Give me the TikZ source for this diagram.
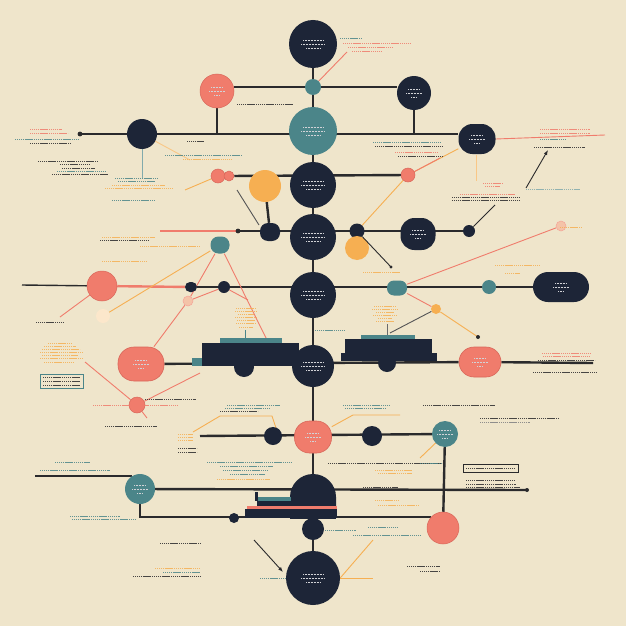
\documentclass[tikz,border=0pt]{standalone}
\usetikzlibrary{arrows.meta}
\definecolor{cream}{HTML}{EFE5CB}
\definecolor{navy}{HTML}{1D2537}
\definecolor{tealc}{HTML}{4B8589}
\definecolor{coral}{HTML}{F07C6C}
\definecolor{coraldk}{HTML}{D9675A}
\definecolor{orangec}{HTML}{F6AF52}
\definecolor{peach}{HTML}{F4C3A8}
\definecolor{ink}{HTML}{2A2A2C}
\pgfdeclarelayer{paper}
\pgfdeclarelayer{wires}
\pgfsetlayers{paper,wires,main}
\tikzset{
  bnavy/.style={circle, fill=navy, inner sep=0pt, minimum size=#1},
  bteal/.style={circle, fill=tealc, inner sep=0pt, minimum size=#1},
  bcoral/.style={circle, fill=coral, draw=coraldk, line width=0.5pt, inner sep=0pt, minimum size=#1},
  borange/.style={circle, fill=orangec, inner sep=0pt, minimum size=#1},
  bpeach/.style={circle, fill=peach, draw=coral!70, line width=0.5pt, inner sep=0pt, minimum size=#1},
  pill/.style={rectangle, fill=navy, inner sep=0pt, rounded corners=#1},
  oval/.style={rectangle, fill=coral, draw=coraldk, line width=0.6pt, inner sep=0pt, rounded corners=#1},
  link/.style={draw=ink, line width=2.4pt},
  thin/.style={line width=0.9pt},
  scribble/.style={line width=1pt, opacity=0.85, dash pattern=on 1.3pt off 0.6pt},
  innertxt/.style={draw=white!80!navy, line width=0.5pt, dash pattern=on 1pt off 0.5pt},
}
\newcommand{\scrib}[4]{\draw[scribble, #1] (#2,#4) -- (#3,#4);}
\newcommand{\inside}[2]{%
  \draw[innertxt] ([xshift=-#2pt, yshift=4pt]#1.center) -- ([xshift=#2pt, yshift=4pt]#1.center);
  \draw[innertxt] ([xshift=-#2pt-2pt]#1.center) -- ([xshift=#2pt+2pt]#1.center);
  \draw[innertxt] ([xshift=-#2pt+3pt, yshift=-4pt]#1.center) -- ([xshift=#2pt-3pt, yshift=-4pt]#1.center);}
\begin{document}
\begin{tikzpicture}[x=1pt, y=-1pt]
  \begin{pgfonlayer}{paper}
    \fill[cream] (0,0) rectangle (626,626);
  \end{pgfonlayer}
  \useasboundingbox (0,0) rectangle (626,626);

  % spine
  \node[bnavy=48pt] (s1) at (313,44) {};
  \node[bteal=16pt] (s2) at (313,87) {};
  \node[bteal=48pt] (s3) at (313,131) {};
  \node[bnavy=46pt] (s4) at (313,185) {};
  \node[bnavy=46pt] (s5) at (313,237) {};
  \node[bnavy=46pt] (s6) at (313,295) {};
  \node[bnavy=42pt] (s7) at (313,366) {};
  \node[oval=15pt, minimum width=37pt, minimum height=32pt] (s8) at (313,437) {};
  \coordinate (s9) at (313,497);
  \node[bnavy=22pt] (s10) at (313,529) {};
  \node[bnavy=54pt] (s11) at (313,578) {};

  % branches
  \node[bcoral=34pt] (r1a) at (217,91) {};
  \node[bnavy=34pt] (r1b) at (414,93) {};
  \coordinate (l2) at (80,134);
  \node[bnavy=30pt] (r2a) at (142,134) {};
  \node[pill=14pt, minimum width=37pt, minimum height=30pt] (r2b) at (477,139) {};
  \coordinate (e2) at (605,135);
  \node[bcoral=14pt] (r3a) at (218,176) {};
  \node[bcoral=10pt] (r3b) at (229,176) {};
  \node[borange=32pt] (r3c) at (265,186) {};
  \node[bcoral=14pt] (r3d) at (408,175) {};
  \coordinate (l4) at (238,231);
  \coordinate (e4) at (160,231);
  \node[pill=8pt, minimum width=20pt, minimum height=18pt] (r4a) at (270,232) {};
  \node[bnavy=15pt] (r4b) at (357,231) {};
  \node[pill=14pt, minimum width=35pt, minimum height=32pt] (r4c) at (418,234) {};
  \node[bnavy=12pt] (r4f) at (469,231) {};
  \node[borange=24pt] (r4d) at (357,248) {};
  \node[pill=8pt, fill=tealc, minimum width=19pt, minimum height=17pt] (r4e) at (220,245) {};
  \coordinate (e5) at (22,285);
  \node[bcoral=30pt] (r5a) at (102,286) {};
  \node[pill=5pt, minimum width=12pt, minimum height=10pt] (r5b) at (191,287) {};
  \node[bnavy=12pt] (r5c) at (224,287) {};
  \node[pill=7pt, fill=tealc, minimum width=20pt, minimum height=15pt] (r5d) at (397,288) {};
  \node[bteal=14pt] (r5e) at (489,287) {};
  \node[pill=15pt, minimum width=56pt, minimum height=30pt] (r5f) at (561,287) {};
  \node[bpeach=10pt] (r5g) at (188,301) {};
  \node[bpeach=10pt] (r5h) at (561,226) {};
  \node[borange=10pt] (r5i) at (436,309) {};
  \node[circle, fill=orangec!30, inner sep=0pt, minimum size=14pt] (r5j) at (103,316) {};
  \node[oval=16pt, minimum width=46pt, minimum height=34pt] (r6a) at (141,364) {};
  \node[oval=15pt, minimum width=42pt, minimum height=30pt] (r6c) at (480,362) {};
  \coordinate (e6) at (593,363);
  \node[bcoral=16pt] (r6d) at (137,405) {};
  \coordinate (e7) at (200,436);
  \node[bnavy=18pt] (r7a) at (273,436) {};
  \node[bnavy=20pt] (r7b) at (372,436) {};
  \node[bteal=26pt] (r7c) at (445,434) {};
  \node[bteal=30pt] (r8a) at (140,489) {};
  \coordinate (e8a) at (35,476);
  \coordinate (e8b) at (132,476);
  \coordinate (e8c) at (527,490);
  \coordinate (e8d) at (431,517);
  \node[bnavy=10pt] (r8b) at (234,518) {};
  \node[bcoral=32pt] (r8x) at (443,528) {};

  % blocks
  \fill[navy] (202,343) rectangle (299,366);
  \fill[tealc] (220,338) rectangle (282,343);
  \fill[tealc] (192,358) rectangle (202,366);
  \fill[navy] (244,367) circle (10pt);
  \fill[navy] (345,339) rectangle (432,354);
  \fill[navy] (341,353) rectangle (437,361);
  \fill[tealc] (361,335) rectangle (415,339);
  \fill[navy] (387,363) circle (9pt);
  \begin{scope}
    \clip (280,470) rectangle (346,518);
    \fill[navy, rounded corners=23pt] (290,474) rectangle (336,540);
  \end{scope}
  \fill[tealc] (257,497) rectangle (291,501);
  \fill[navy] (255,492) rectangle (258,501);
  \fill[navy] (257,501) rectangle (291,507);
  \fill[coral] (247,506) rectangle (337,509);
  \fill[navy] (245,509) rectangle (337,518);

  \begin{pgfonlayer}{wires}
    \draw[link] (s1) -- (s11);
    \draw[link] (r1a.east |- s2) -- (r1b.west |- s2);
    \draw[link] (r1a) -- (r1a |- l2);
    \draw[link] (r1b) -- (r1b |- l2);
    \draw[link] (l2) -- (r2b.west |- l2);
    \draw[thin, coral] (r2b.east) -- (e2);
    \draw[thin, tealc!70] (r2a) -- ++(0,44);
    \draw[link] (r3b) -- (r3d);
    \draw[link] (r3c) -- (r4a);
    \draw[thin, coral, line width=1.2pt] (e4) -- (l4);
    \draw[link] (l4) -- (r4f);
    \draw[ink, line width=1.4pt] (e5) -- (r5a);
    \draw[link, coral] (r5a) -- (r5b);
    \draw[link] (r5b) -- (r5f);
    \draw[link] (r6a) -- (r6c);
    \draw[link] (r6c) -- (e6);
    \draw[link] (e7) -- (r7c);
    \draw[link] (r7c) -- (r8x);
    \draw[link] (e8a) -- (e8b);
    \draw[link] (r8a) -- (e8c);
    \draw[link] (r8a.south) |- (e8d);

    % thin connectors
    \draw[thin, coral] (s2) -- (347,52);
    \draw[thin, orangec] (r3a) -- (185,190);
    \draw[thin, orangec!70] (r2a) -- (190,160);
    \draw[thin, orangec] (r3d) -- (r2b);
    \draw[thin, orangec] (r3d) -- (r4b);
    \draw[thin, coral] (r3d) -- (440,158);
    \draw[thin, orangec!70] (476,155) -- (476,181);
    \draw[thin, coral] (r4e) -- (r5g) -- (r6a);
    \draw[thin, coral] (r4e) -- (267,340);
    \draw[thin, coral] (r5g) -- (r5c) -- (248,300);
    \draw[thin, orangec] (r4e) -- (r5j);
    \draw[thin, coral] (r5a) -- (60,317);
    \draw[thin, coral] (r5d) -- (r5h);
    \draw[thin, coral] (r5d) -- (r5i);
    \draw[thin, orangec] (r5i) -- (478,337);
    \draw[thin, ink!80] (r5i) -- (390,333);
    \draw[thin, coral] (r6d) -- (200,373);
    \draw[thin, coral] (r6d) -- (85,362);
    \draw[thin, coral] (r6d) -- (147,418);
    \draw[thin, orangec] (193,432) -- (220,416) -- (272,416) -- (276,428);
    \draw[thin, orangec] (s8) -- (353,415) -- (400,415);
    \draw[thin, orangec] (r7c) -- (420,458);
    \draw[thin, orangec] (s11.east) -- (373,540);
    \draw[thin, orangec] (s11.east) -- ++(33,0);
  \end{pgfonlayer}

  \fill[ink] (l2) circle (2.4pt);
  \fill[ink] (l4) circle (2.4pt);
  \fill[ink] (e8c) circle (2pt);
  \fill[ink] (478,337) circle (2pt);
  \fill[ink] (391,267) circle (1.6pt);

  % arrows
  \draw[thin, ink, -{Latex[length=5pt]}] (526,188) -- (548,150);
  \draw[thin, ink] (r4f) -- (495,205);
  \draw[thin, ink] (r4b) -- (391,267);
  \draw[thin, ink!80] (237,190) -- (259,225);
  \draw[thin, ink, -{Latex[length=5pt]}] (254,540) -- (283,572);

  % text lines
  \scrib{tealc}{340}{362}{39}
  \scrib{coral}{343}{410}{44}
  \scrib{coral}{348}{392}{48}
  \scrib{coral}{352}{382}{52}
  \scrib{coral}{30}{62}{129}
  \scrib{coral}{30}{68}{133}
  \scrib{tealc}{15}{78}{139}
  \scrib{ink}{30}{70}{143}
  \scrib{ink}{38}{98}{161}
  \scrib{ink}{60}{90}{164}
  \scrib{ink}{62}{95}{168}
  \scrib{tealc}{57}{105}{171}
  \scrib{ink}{52}{108}{174}
  \scrib{tealc}{115}{157}{178}
  \scrib{tealc}{118}{155}{181}
  \scrib{orangec}{112}{165}{185}
  \scrib{orangec}{105}{173}{188}
  \scrib{tealc}{112}{155}{200}
  \scrib{ink}{237}{293}{104}
  \scrib{ink}{187}{204}{141}
  \scrib{tealc}{165}{242}{155}
  \scrib{orangec}{183}{232}{159}
  \scrib{tealc}{373}{440}{142}
  \scrib{ink}{375}{443}{146}
  \scrib{coral}{395}{437}{152}
  \scrib{ink}{398}{443}{156}
  \scrib{orangec}{102}{155}{237}
  \scrib{ink}{100}{148}{240}
  \scrib{orangec}{140}{200}{246}
  \scrib{orangec}{102}{147}{261}
  \scrib{ink}{36}{63}{322}
  \foreach \y/\a/\b in {343/48/72, 346/44/76, 349/42/80, 352/40/82, 355/42/78, 358/40/82, 362/44/74}
    {\scrib{orangec}{\a}{\b}{\y}}
  \draw[tealc, line width=0.7pt] (40,374) rectangle (83,388);
  \foreach \y in {377,381,385}
    {\scrib{ink}{43}{80}{\y}}
  \scrib{coral}{93}{177}{405}
  \scrib{ink}{145}{196}{399}
  \scrib{ink}{105}{157}{426}
  \foreach \y in {434,437,440}
    {\scrib{orangec}{178}{193}{\y}}
  \scrib{ink}{178}{197}{448}
  \scrib{ink}{178}{197}{452}
  \scrib{tealc}{55}{90}{462}
  \scrib{tealc}{40}{110}{470}
  \scrib{tealc}{227}{280}{405}
  \scrib{tealc}{225}{270}{408}
  \scrib{ink}{220}{258}{411}
  \scrib{tealc}{207}{292}{462}
  \scrib{tealc}{220}{273}{466}
  \scrib{tealc}{223}{268}{470}
  \scrib{tealc}{230}{265}{474}
  \scrib{orangec}{217}{270}{479}
  \scrib{tealc}{343}{390}{405}
  \scrib{tealc}{345}{385}{408}
  \scrib{ink}{328}{442}{463}
  \scrib{orangec}{375}{412}{470}
  \scrib{orangec}{378}{412}{473}
  \scrib{ink}{363}{398}{487}
  \scrib{orangec}{375}{398}{500}
  \scrib{orangec}{378}{418}{505}
  \scrib{tealc}{325}{356}{530}
  \scrib{tealc}{368}{398}{527}
  \scrib{tealc}{353}{420}{535}
  \scrib{ink}{407}{440}{566}
  \scrib{ink}{420}{440}{571}
  \scrib{tealc}{70}{120}{516}
  \scrib{tealc}{72}{135}{519}
  \scrib{ink}{160}{200}{543}
  \scrib{orangec}{155}{200}{568}
  \scrib{tealc}{163}{200}{572}
  \scrib{ink}{133}{200}{576}
  \scrib{tealc}{260}{286}{578}
  \scrib{coral}{542}{590}{353}
  \scrib{coral}{543}{590}{356}
  \scrib{ink}{538}{595}{360}
  \scrib{ink}{533}{596}{372}
  \scrib{ink}{423}{495}{405}
  \scrib{ink}{480}{558}{418}
  \scrib{ink!60}{480}{530}{422}
  \draw[ink, line width=0.6pt] (463,464) rectangle (518,472);
  \scrib{ink}{466}{515}{468}
  \scrib{ink}{466}{515}{480}
  \scrib{ink}{466}{516}{484}
  \scrib{ink}{466}{520}{487}
  \scrib{tealc}{420}{442}{463}
  \scrib{coral}{540}{590}{129}
  \scrib{coral}{540}{590}{133}
  \scrib{tealc}{540}{565}{139}
  \scrib{ink}{534}{585}{147}
  \scrib{tealc!70}{526}{580}{189}
  \scrib{coral}{483}{503}{183}
  \scrib{coral}{485}{500}{186}
  \scrib{coral}{460}{515}{194}
  \scrib{ink}{452}{520}{197}
  \scrib{ink}{452}{520}{200}
  \scrib{orangec}{560}{582}{227}
  \scrib{orangec}{495}{540}{265}
  \scrib{orangec}{505}{520}{273}
  \scrib{orangec}{363}{400}{272}
  \scrib{tealc}{315}{345}{330}
  \foreach \y/\a/\b in {306/374/396, 309/372/398, 312/376/394, 315/373/397, 318/378/392, 321/376/394}
    {\scrib{orangec}{\a}{\b}{\y}}
  \draw[thin, ink!70] (387,324) -- (387,335);
  \foreach \y/\a/\b in {308/236/256, 311/235/257, 314/238/254, 317/235/257, 320/237/255, 323/236/256, 327/239/253}
    {\scrib{orangec}{\a}{\b}{\y}}
  \draw[thin, tealc] (245,330) -- (245,338);

  % labels inside shapes
  \foreach \n in {s1,s3,s4,s5,s6,s7,s11}
    {\inside{\n}{10}}
  \foreach \n in {r1a,r1b,r2b,r4c,s8,r6a,r6c,r8a,r7c,r5f}
    {\inside{\n}{6}}
\end{tikzpicture}
\end{document}
